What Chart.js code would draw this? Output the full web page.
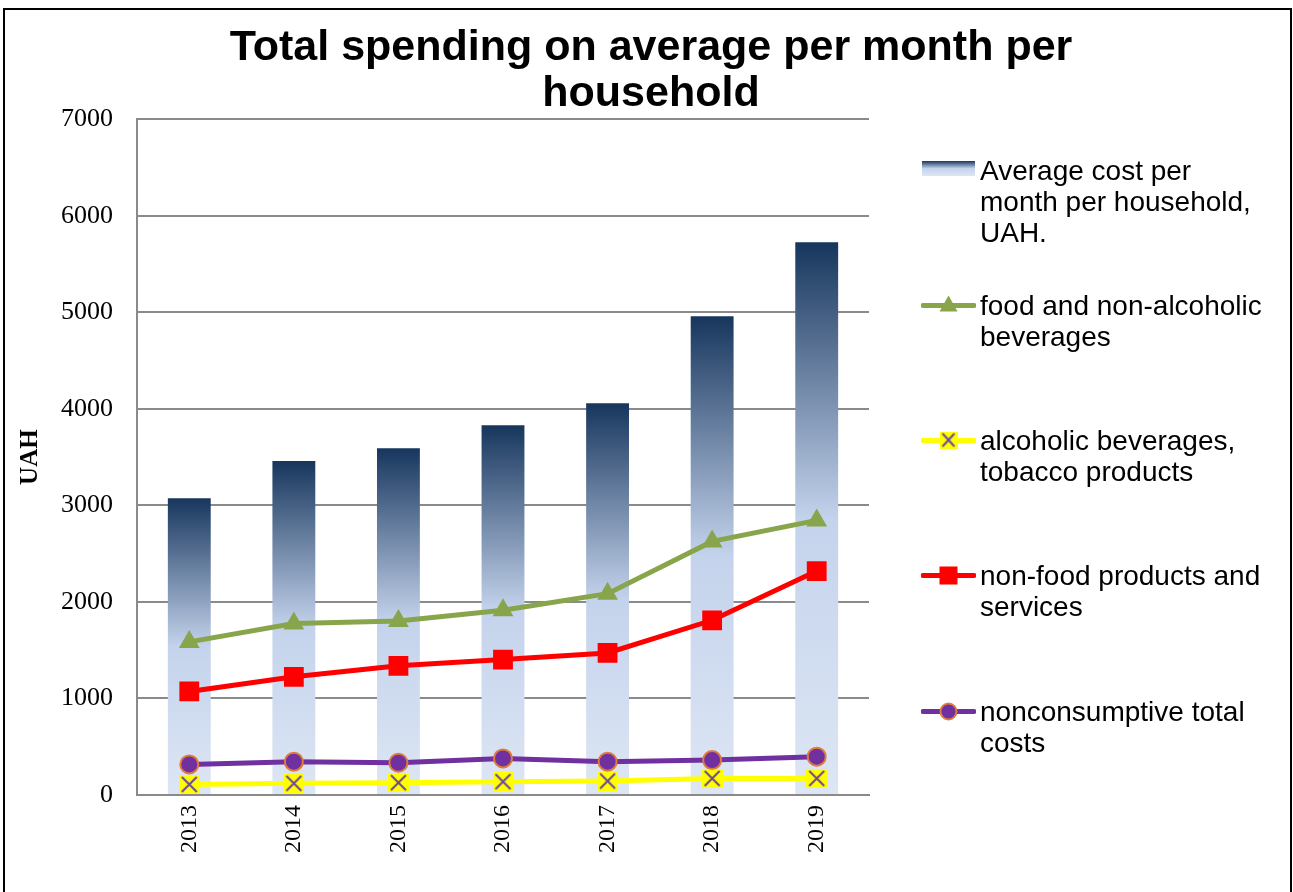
<!DOCTYPE html>
<html>
<head>
<meta charset="utf-8">
<script src="https://cdn.jsdelivr.net/npm/chart.js@4.4.1/dist/chart.umd.min.js"></script>
<style>
html,body{margin:0;padding:0;background:#fff;overflow:hidden}
#wrap{position:relative;width:1293px;height:892px;overflow:hidden}
#frame{position:absolute;left:3px;top:8px;width:1285px;height:900px;border:2px solid #000;border-bottom:none;pointer-events:none}
#c{position:absolute;left:0;top:0}
#legend{position:absolute;left:0;top:0}
.li{position:absolute;left:921px;display:flex;align-items:flex-start}
.li canvas{flex:none;display:block}
.li span{display:block;width:292px;margin-left:4px;font-family:"Liberation Sans",Arial,sans-serif;font-size:28px;line-height:31px;color:#000}
</style>
</head>
<body>
<div id="wrap">
  <canvas id="c" width="1293" height="892"></canvas>
  <div id="legend"></div>
  <div id="frame"></div>
</div>
<script>
// ---- data ----
const years = ['2013', '2014', '2015', '2016', '2017', '2018', '2019'];
const avgCost = [3075, 3459, 3593, 3831, 4059, 4960, 5726];
const food = [1586, 1776, 1803, 1914, 2086, 2627, 2845];
const alcohol = [110, 121, 128, 138, 145, 172, 172];
const nonFood = [1073, 1224, 1338, 1403, 1472, 1810, 2320];
const nonConsumptive = [317, 345, 334, 379, 345, 362, 397];
const yTickValues = [0, 1000, 2000, 3000, 4000, 5000, 6000, 7000];
const titleLines = ['Total spending on average per month per', 'household'];
const yTitle = 'UAH';
const seriesLabels = [
  'Average cost per month per household, UAH.',
  'food and non-alcoholic beverages',
  'alcoholic beverages, tobacco products',
  'non-food products and services',
  'nonconsumptive total costs'
];

// ---- styles ----
const SERIF = "'Liberation Serif','Times New Roman',serif";
const SANS = "'Liberation Sans',Arial,sans-serif";
const GRID = '#8a8a8a';
const GREEN = '#88a54b';
const RED = '#ff0000';
const YELLOW = '#ffff00';
const PURPLE = '#7030a0';
const ORANGE = '#e07b39';

function barGradient(g, top, bottom) {
  const gr = g.createLinearGradient(0, top, 0, bottom);
  gr.addColorStop(0, '#17365d');
  gr.addColorStop(0.5, '#c4d3ec');
  gr.addColorStop(1, '#dde6f4');
  return gr;
}

function makeXMarker(w, h) {
  const c = document.createElement('canvas');
  c.width = w; c.height = h;
  const g = c.getContext('2d');
  g.fillStyle = YELLOW;
  g.fillRect(0, 0, w, h);
  g.strokeStyle = '#6f45a0';
  g.lineWidth = 2;
  g.beginPath();
  g.moveTo(3, 2); g.lineTo(w - 3, h - 2);
  g.moveTo(w - 3, 2); g.lineTo(3, h - 2);
  g.stroke();
  return c;
}
const xMarker = makeXMarker(21, 19);

const htmlLegend = {
  id: 'htmlLegend',
  afterUpdate(chart) {
    const box = document.getElementById('legend');
    box.innerHTML = '';
    chart.data.datasets.forEach((ds, i) => {
      const item = document.createElement('div');
      item.className = 'li';
      item.style.top = (154.5 + i * 135.3) + 'px';
      const sym = document.createElement('canvas');
      sym.width = 55; sym.height = 31;
      const g = sym.getContext('2d');
      if (ds.type === 'bar') {
        g.fillStyle = barGradient(g, 6, 21);
        g.fillRect(1, 6, 53, 15);
      } else {
        g.strokeStyle = ds.borderColor;
        g.lineWidth = 5;
        g.lineCap = 'round';
        g.beginPath(); g.moveTo(2, 15.5); g.lineTo(53, 15.5); g.stroke();
        const cx = 27.5, cy = 15.5;
        g.fillStyle = ds.pointBackgroundColor;
        if (ds.pointStyle === 'triangle') {
          g.beginPath(); g.moveTo(cx, cy - 10); g.lineTo(cx + 9, cy + 6); g.lineTo(cx - 9, cy + 6); g.closePath(); g.fill();
        } else if (ds.pointStyle === 'rect') {
          g.fillRect(cx - 9, cy - 9, 18, 18);
        } else if (ds.pointStyle === 'circle') {
          g.beginPath(); g.arc(cx, cy, 8, 0, Math.PI * 2); g.fill();
          g.strokeStyle = ds.pointBorderColor; g.lineWidth = 2; g.stroke();
        } else {
          g.drawImage(makeXMarker(18, 17), cx - 9, cy - 9);
        }
      }
      const txt = document.createElement('span');
      txt.textContent = ds.label;
      item.appendChild(sym);
      item.appendChild(txt);
      box.appendChild(item);
    });
  }
};

new Chart(document.getElementById('c'), {
  data: {
    labels: years,
    datasets: [
      {
        type: 'bar', label: seriesLabels[0], data: avgCost, order: 10,
        backgroundColor: (ctx) => {
          const chart = ctx.chart;
          if (!chart.chartArea || ctx.type !== 'data') return '#8fa6cc';
          const y = chart.scales.y;
          return barGradient(chart.ctx, y.getPixelForValue(ctx.raw), y.getPixelForValue(0));
        },
        borderWidth: 0, barPercentage: 0.41, categoryPercentage: 1
      },
      {
        type: 'line', label: seriesLabels[1], data: food, order: 4,
        borderColor: GREEN, borderWidth: 5, pointStyle: 'triangle', pointRadius: 12,
        pointBackgroundColor: GREEN, pointBorderColor: GREEN, pointBorderWidth: 0, tension: 0
      },
      {
        type: 'line', label: seriesLabels[2], data: alcohol, order: 3,
        borderColor: YELLOW, borderWidth: 5, pointStyle: xMarker, pointRadius: 10,
        pointBackgroundColor: YELLOW, pointBorderColor: YELLOW, tension: 0
      },
      {
        type: 'line', label: seriesLabels[3], data: nonFood, order: 2,
        borderColor: RED, borderWidth: 5, pointStyle: 'rect', pointRadius: 14,
        pointBackgroundColor: RED, pointBorderColor: RED, pointBorderWidth: 0, tension: 0
      },
      {
        type: 'line', label: seriesLabels[4], data: nonConsumptive, order: 1,
        borderColor: PURPLE, borderWidth: 5, pointStyle: 'circle', pointRadius: 9,
        pointBackgroundColor: PURPLE, pointBorderColor: ORANGE, pointBorderWidth: 2, tension: 0
      }
    ]
  },
  options: {
    responsive: false,
    animation: false,
    layout: { padding: { left: 9, right: 0, top: 0, bottom: 0 } },
    plugins: {
      legend: { display: false },
      tooltip: { enabled: false },
      title: {
        display: true, text: titleLines, color: '#000',
        font: { family: SANS, size: 43, weight: 'bold', lineHeight: 1.05 },
        padding: { top: 26, bottom: 3 }
      }
    },
    scales: {
      x: {
        grid: { display: false },
        border: { display: true, color: GRID, width: 2 },
        ticks: { color: '#000', font: { family: SERIF, size: 24 }, minRotation: 90, maxRotation: 90, padding: 2 },
        afterFit(s) { s.height = 97; }
      },
      y: {
        min: 0, max: 7000,
        afterBuildTicks(s) { s.ticks = yTickValues.map(v => ({ value: v })); },
        grid: { color: GRID, lineWidth: 2, drawTicks: false },
        border: { display: true, color: GRID, width: 2 },
        ticks: { color: '#000', font: { family: SERIF, size: 26 }, padding: 24, callback: (v) => String(v) },
        title: { display: true, text: yTitle, color: '#000', font: { family: SERIF, size: 25, weight: 'bold' }, padding: { top: 7, bottom: 0 } },
        afterFit(s) { s.width = 128; }
      },
      yR: {
        position: 'right', display: true, min: 0, max: 7000,
        grid: { display: false, drawOnChartArea: false },
        border: { display: false },
        ticks: { display: false },
        afterFit(s) { s.width = 424; }
      }
    }
  },
  plugins: [htmlLegend]
});
</script>
</body>
</html>
